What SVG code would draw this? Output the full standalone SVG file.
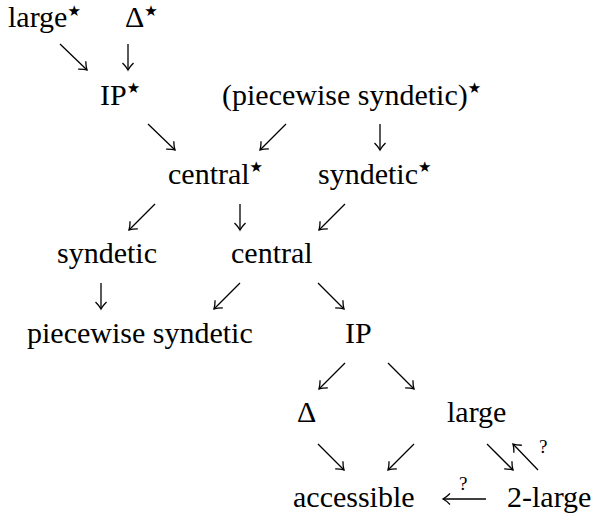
<svg xmlns="http://www.w3.org/2000/svg" width="592" height="527" viewBox="0 0 592 527">
<style>
text{font-family:"Liberation Serif","Times New Roman",serif;font-size:30px;fill:#000}
.st{font-family:"DejaVu Sans",sans-serif;font-size:15px}
.q{font-size:19px}
.a{stroke:#000;stroke-width:1.3;fill:none;marker-end:url(#h)}
</style>
<defs>
<marker id="h" markerUnits="userSpaceOnUse" markerWidth="14" markerHeight="14" viewBox="-8 -7 10 14" refX="0" refY="0" orient="auto">
<path d="M-7,-5.5 Q-3,-1.5 0,0 Q-3,1.5 -7,5.5" stroke="#000" stroke-width="1.3" fill="none"/>
</marker>
</defs>
<rect width="592" height="527" fill="#fff"/>
<g id="n-large-star"><text x="8" y="27">large<tspan class="st" dy="-11">★</tspan></text></g>
<g id="n-delta-star"><text x="125" y="27">Δ<tspan class="st" dy="-11">★</tspan></text></g>
<g id="n-ip-star"><text x="100" y="105">IP<tspan class="st" dy="-12">★</tspan></text></g>
<g id="n-pws-star"><text x="222" y="105">(piecewise syndetic)<tspan class="st" dy="-12">★</tspan></text></g>
<g id="n-central-star"><text x="168" y="184">central<tspan class="st" dy="-12">★</tspan></text></g>
<g id="n-syndetic-star"><text x="318" y="184">syndetic<tspan class="st" dy="-12">★</tspan></text></g>
<g id="n-syndetic"><text x="57" y="263">syndetic</text></g>
<g id="n-central"><text x="231" y="263">central</text></g>
<g id="n-pws"><text x="27" y="343">piecewise syndetic</text></g>
<g id="n-ip"><text x="345" y="343">IP</text></g>
<g id="n-delta"><text x="297" y="422">Δ</text></g>
<g id="n-large"><text x="447" y="422">large</text></g>
<g id="n-accessible"><text x="293" y="507">accessible</text></g>
<g id="n-2large"><text x="507" y="507">2-large</text></g>
<g id="connectors">
<line class="a" x1="60" y1="44" x2="87" y2="70"/>
<line class="a" x1="128" y1="44" x2="128" y2="70"/>
<line class="a" x1="148" y1="124" x2="175" y2="150"/>
<line class="a" x1="286" y1="124" x2="260" y2="150"/>
<line class="a" x1="380" y1="124" x2="380" y2="150"/>
<line class="a" x1="155" y1="204" x2="129" y2="230"/>
<line class="a" x1="240" y1="204" x2="240" y2="230"/>
<line class="a" x1="345" y1="204" x2="319" y2="230"/>
<line class="a" x1="101" y1="283" x2="101" y2="309"/>
<line class="a" x1="240" y1="283" x2="214" y2="309"/>
<line class="a" x1="318" y1="283" x2="344" y2="309"/>
<line class="a" x1="345" y1="363" x2="319" y2="389"/>
<line class="a" x1="388" y1="363" x2="414" y2="389"/>
<line class="a" x1="318" y1="444" x2="344" y2="470"/>
<line class="a" x1="414" y1="444" x2="388" y2="470"/>
<line class="a" x1="487" y1="444" x2="513" y2="470"/>
<line class="a" x1="538" y1="470" x2="513" y2="444"/>
<line class="a" x1="486" y1="499" x2="443" y2="499"/>
<text class="q" x="539" y="453">?</text>
<text class="q" x="459" y="490">?</text>
</g>
</svg>
